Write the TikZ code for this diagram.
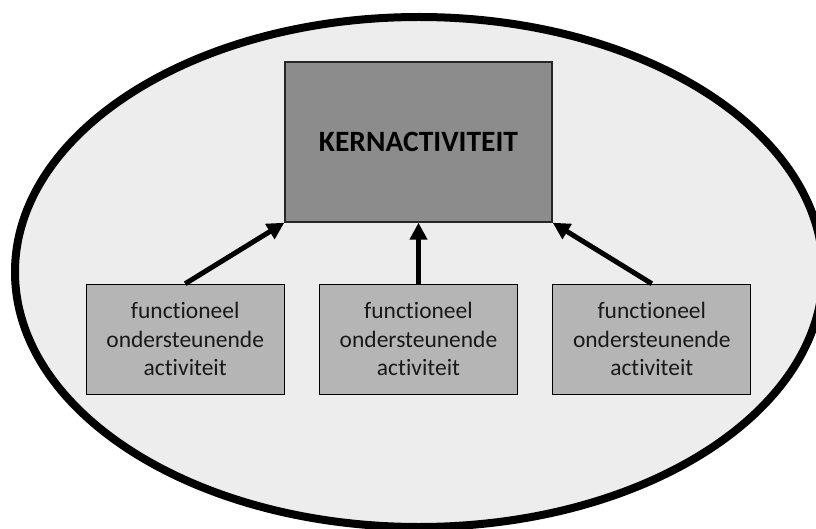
\documentclass[tikz,border=0pt]{standalone}
\usepackage{fontspec}
\setmainfont{Carlito}[Ligatures=NoCommon]
\usetikzlibrary{positioning, arrows.meta}

\definecolor{ovalgray}{HTML}{EDEDED}
\definecolor{kerngray}{HTML}{8C8C8C}
\definecolor{steungray}{HTML}{B5B5B5}

\begin{document}
\begin{tikzpicture}[
x=1pt, y=1pt,
oval/.style={draw=black, line width=8pt, fill=ovalgray},
kernblock/.style={rectangle, draw=black!85, line width=1.4pt, fill=kerngray,
minimum width=267pt, minimum height=160pt, inner sep=0pt,
font=\fontsize{29.5}{35}\selectfont\bfseries},
steunblock/.style={rectangle, draw=black, line width=1.3pt, fill=steungray,
minimum width=198pt, minimum height=110pt, inner sep=0pt, align=center,
text=black!90, font=\fontsize{23.5}{28.5}\selectfont},
line/.style={draw, line width=5pt, -{Triangle[length=17pt, width=17pt]}}
]
\clip (0,0) rectangle (816,-529);
\draw [oval] (419,-272) ellipse [x radius=404, y radius=255];

\node [kernblock] (kern) at (418.5,-142) {KERNACTIVITEIT};
\node [steunblock, below=61pt of kern] (steun-mid)
{functioneel\\ondersteunende\\activiteit};
\node [steunblock, left=34pt of steun-mid] (steun-left)
{functioneel\\ondersteunende\\activiteit};
\node [steunblock, right=34pt of steun-mid] (steun-right)
{functioneel\\ondersteunende\\activiteit};

\path [line] (steun-left.north) -- (kern.south west);
\path [line] (steun-mid.north) -- (kern.south);
\path [line] (steun-right.north) -- (kern.south east);
\end{tikzpicture}
\end{document}
